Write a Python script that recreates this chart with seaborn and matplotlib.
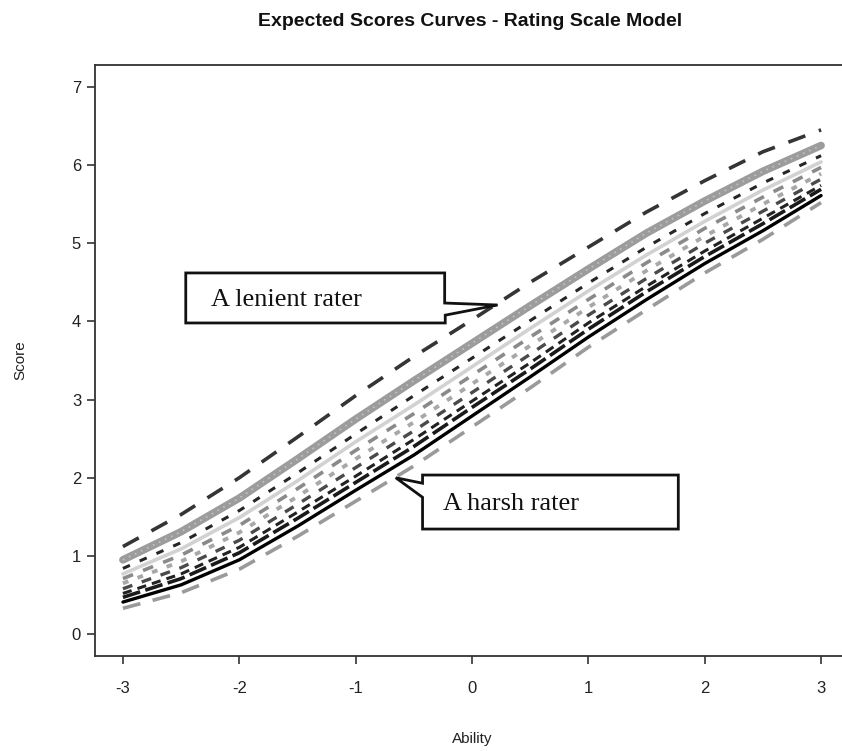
import numpy as np
import pandas as pd
import matplotlib
matplotlib.use("Agg")
import matplotlib.pyplot as plt
from matplotlib.patches import Polygon
import seaborn as sns

# Ability grid where the expected scores were evaluated
ability = [-3.0, -2.5, -2.0, -1.5, -1.0, -0.5, 0.0, 0.5, 1.0, 1.5, 2.0, 2.5, 3.0]

# Expected score of each rater at every ability value
rater_lenient = [1.12, 1.53, 2.00, 2.52, 3.05, 3.55, 4.02, 4.50, 4.95, 5.40, 5.80, 6.17, 6.45]
rater_b = [0.95, 1.31, 1.74, 2.24, 2.75, 3.24, 3.72, 4.20, 4.67, 5.13, 5.54, 5.92, 6.25]
rater_c = [0.84, 1.17, 1.58, 2.06, 2.56, 3.05, 3.53, 4.01, 4.49, 4.95, 5.38, 5.77, 6.12]
rater_d = [0.77, 1.09, 1.49, 1.96, 2.46, 2.93, 3.42, 3.91, 4.39, 4.85, 5.28, 5.68, 6.04]
rater_e = [0.71, 1.01, 1.39, 1.86, 2.35, 2.82, 3.31, 3.80, 4.28, 4.75, 5.19, 5.59, 5.97]
rater_f = [0.65, 0.93, 1.30, 1.76, 2.24, 2.71, 3.20, 3.69, 4.18, 4.65, 5.09, 5.50, 5.89]
rater_g = [0.58, 0.85, 1.20, 1.66, 2.13, 2.60, 3.09, 3.58, 4.08, 4.55, 5.00, 5.41, 5.82]
rater_h = [0.52, 0.77, 1.11, 1.56, 2.02, 2.49, 2.98, 3.47, 3.98, 4.45, 4.90, 5.32, 5.74]
rater_k = [0.47, 0.71, 1.04, 1.48, 1.94, 2.40, 2.90, 3.39, 3.90, 4.38, 4.83, 5.25, 5.69]
rater_i = [0.41, 0.63, 0.95, 1.38, 1.84, 2.29, 2.79, 3.29, 3.80, 4.28, 4.74, 5.16, 5.61]
rater_harsh = [0.33, 0.53, 0.83, 1.25, 1.70, 2.15, 2.65, 3.15, 3.67, 4.15, 4.62, 5.05, 5.52]

x_ticks = [-3, -2, -1, 0, 1, 2, 3]
y_ticks = [0, 1, 2, 3, 4, 5, 6, 7]

title = "Expected Scores Curves - Rating Scale Model"
x_label = "Ability"
y_label = "Score"
lenient_text = "A lenient rater"
harsh_text = "A harsh rater"

# (values, color, linewidth, linestyle)
curves = [
    (rater_harsh, "#9a9a9a", 2.6, (0, (5, 3.5))),
    (rater_i, "#000000", 2.4, "solid"),
    (rater_k, "#1a1a1a", 2.6, (0, (5, 1.5))),
    (rater_h, "#222222", 2.2, (0, (3, 2))),
    (rater_g, "#4a4a4a", 2.4, (0, (3, 3))),
    (rater_f, "#a8a8a8", 2.8, (0, (1.5, 2.5))),
    (rater_e, "#8a8a8a", 2.6, (0, (3, 3))),
    (rater_d, "#d2d2d2", 2.6, "solid"),
    (rater_c, "#262626", 2.2, (0, (2.5, 3.5))),
    (rater_b, "#9c9c9c", 5.5, "solid"),
    (rater_b, "#c4c4c4", 1.2, (0, (1, 3))),
    (rater_lenient, "#353535", 2.6, (0, (5, 4))),
]

sns.set_style("ticks")
plt.rcParams["font.family"] = ["Liberation Sans", "DejaVu Sans"]

fig = plt.figure(figsize=(8.42, 7.51), dpi=100)
ax = fig.add_axes([95 / 842, 95 / 751, (849 - 95) / 842, (656 - 65) / 751])

for values, color, lw, ls in curves:
    df = pd.DataFrame({"ability": ability, "score": values})
    sns.lineplot(data=df, x="ability", y="score", ax=ax, color=color,
                 linewidth=lw, linestyle=ls, estimator=None, legend=False)

ax.set_xlim(-3.24, 3.24)
ax.set_ylim(-0.28, 7.28)
ax.set_xticks(x_ticks)
ax.set_xticklabels([str(v) for v in x_ticks])
ax.set_yticks(y_ticks)
ax.set_yticklabels([str(v) for v in y_ticks])
ax.tick_params(axis="both", direction="out", length=6, width=1.1,
               color="#222222", labelsize=12, labelcolor="#222222")
ax.tick_params(axis="x", pad=12)
ax.tick_params(axis="y", pad=4)
for sp in ax.spines.values():
    sp.set_visible(True)
    sp.set_color("#333333")
    sp.set_linewidth(1.3)

ax.set_xlabel(x_label, fontsize=11, color="#222222", labelpad=26)
ax.set_ylabel(y_label, fontsize=11, color="#222222", labelpad=32)
fig.text(470 / 842, 1 - 22 / 751, title, ha="center", va="center",
         fontsize=14, fontweight="bold", color="#111111")

# Callout for the most lenient rater, tail pointing at its curve
lenient_box = [(-2.46, 4.62), (-0.235, 4.62), (-0.235, 4.235), (0.22, 4.21),
               (-0.23, 4.08), (-0.23, 3.98), (-2.46, 3.98)]
ax.add_patch(Polygon(lenient_box, closed=True, facecolor="white",
                     edgecolor="#111111", linewidth=2.0, zorder=5))
ax.text(-2.245, 4.27, lenient_text, family=["Liberation Serif"], fontsize=19,
        ha="left", va="center", color="#111111", zorder=6)

# Callout for the most severe rater
harsh_box = [(-0.425, 2.035), (1.773, 2.035), (1.773, 1.344), (-0.425, 1.344),
             (-0.425, 1.75), (-0.655, 2.0), (-0.425, 1.93)]
ax.add_patch(Polygon(harsh_box, closed=True, facecolor="white",
                     edgecolor="#111111", linewidth=2.0, zorder=5))
ax.text(-0.245, 1.67, harsh_text, family=["Liberation Serif"], fontsize=19,
        ha="left", va="center", color="#111111", zorder=6)

fig.savefig("out.png", dpi=100, facecolor="white")
